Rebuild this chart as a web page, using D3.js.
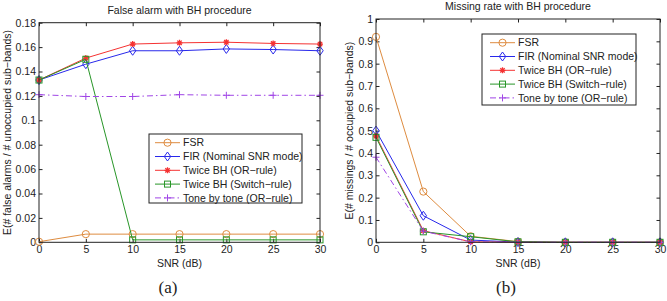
<!DOCTYPE html>
<html>
<head>
<meta charset="utf-8">
<script src="https://cdn.jsdelivr.net/npm/d3@7"></script>
<style>
  body { margin: 0; background: #fff; }
  svg { display: block; font-family: "Liberation Sans", Arial, sans-serif; }
</style>
</head>
<body>
<div id="chart"></div>
<script>
// SNR values shared by both panels
let snr = [0, 5, 10, 15, 20, 25, 30];
let seriesNames = ['FSR', 'FIR (Nominal SNR mode)', 'Twice BH (OR\u2212rule)', 'Twice BH (Switch\u2212rule)', 'Tone by tone (OR\u2212rule)'];

// panel (a): false alarm
let faFSR    = [0.0005, 0.0067, 0.0067, 0.0067, 0.0067, 0.0067, 0.0067];
let faFIR    = [0.133, 0.146, 0.157, 0.157, 0.1585, 0.158, 0.157];
let faOR     = [0.133, 0.151, 0.1625, 0.1635, 0.164, 0.163, 0.1625];
let faSwitch = [0.133, 0.150, 0.002, 0.002, 0.002, 0.002, 0.002];
let faTone   = [0.121, 0.1195, 0.1195, 0.121, 0.1205, 0.1205, 0.1205];

// panel (b): missing rate
let mrFSR    = [0.92, 0.227, 0.027, 0.003, 0, 0, 0];
let mrFIR    = [0.50, 0.119, 0.01, 0.001, 0, 0, 0];
let mrOR     = [0.476, 0.052, 0.002, 0, 0, 0, 0];
let mrSwitch = [0.47, 0.047, 0.025, 0.002, 0, 0, 0];
let mrTone   = [0.381, 0.05, 0.002, 0, 0, 0, 0];

let faTicks = [0, 0.02, 0.04, 0.06, 0.08, 0.1, 0.12, 0.14, 0.16, 0.18];
let mrTicks = [0, 0.1, 0.2, 0.3, 0.4, 0.5, 0.6, 0.7, 0.8, 0.9, 1];

let styles = [
    {color: 'rgb(222,140,64)', marker: 'circle', dash: null},
    {color: 'rgb(40,40,235)',  marker: 'diamond', dash: null},
    {color: 'rgb(245,50,50)',  marker: 'star', dash: null},
    {color: 'rgb(40,150,40)',  marker: 'square', dash: null},
    {color: 'rgb(160,70,230)', marker: 'plus', dash: '6,3,1.5,3'}
];

let svg = d3.select('#chart').append('svg')
    .attr('width', 667)
    .attr('height', 301);

let panels = [
    {
        x0: 39, x1: 320, y0: 242.3, y1: 22.7,
        ymax: 0.18, yTicks: faTicks,
        title: 'False alarm with BH procedure', titleY: 14,
        ylabel: 'E(# false alarms / # unoccupied sub\u2212bands)', ylabelX: 7.5,
        data: [faFSR, faFIR, faOR, faSwitch, faTone],
        legend: {x: 149, y: 134, w: 153, h: 69, lx: 6, tx: 34},
        caption: '(a)', capX: 168
    },
    {
        x0: 376, x1: 660, y0: 242.3, y1: 19,
        ymax: 1, yTicks: mrTicks,
        title: 'Missing rate with BH procedure', titleY: 10,
        ylabel: 'E(# missings / # occupied sub\u2212bands)', ylabelX: 349,
        data: [mrFSR, mrFIR, mrOR, mrSwitch, mrTone],
        legend: {x: 482, y: 34, w: 154, h: 71, lx: 8, tx: 36},
        caption: '(b)', capX: 506
    }
];

function drawMarker(g, type, color) {
    if (type === 'circle') {
        g.append('circle').attr('r', 3.6).attr('fill', 'none').attr('stroke', color).attr('stroke-width', 1);
    } else if (type === 'diamond') {
        g.append('path').attr('d', 'M0,-4.5L3.2,0L0,4.5L-3.2,0Z').attr('fill', 'none').attr('stroke', color).attr('stroke-width', 1);
    } else if (type === 'square') {
        g.append('rect').attr('x', -3).attr('y', -3).attr('width', 6).attr('height', 6)
            .attr('fill', 'none').attr('stroke', color).attr('stroke-width', 1);
    } else if (type === 'star') {
        g.append('path').attr('d', 'M-3,0L3,0M0,-3L0,3M-2.2,-2.2L2.2,2.2M-2.2,2.2L2.2,-2.2')
            .attr('stroke', color).attr('stroke-width', 1.3);
    } else if (type === 'plus') {
        g.append('path').attr('d', 'M-3.5,0L3.5,0M0,-3.5L0,3.5').attr('stroke', color).attr('stroke-width', 1);
    }
}

panels.forEach(p => {
    let x = d3.scaleLinear().domain([0, 30]).range([p.x0, p.x1]);
    let y = d3.scaleLinear().domain([0, p.ymax]).range([p.y0, p.y1]);
    let g = svg.append('g');

    // axes (Matlab style: ticks inward on all four sides)
    g.append('g')
        .attr('transform', `translate(0,${p.y0})`)
        .call(d3.axisBottom(x).tickValues(snr).tickSizeInner(-3.5).tickSizeOuter(0).tickPadding(3))
        .call(a => a.select('.domain').remove())
        .call(a => a.selectAll('text').attr('font-size', 10.5).attr('fill', '#222'));
    g.append('g')
        .attr('transform', `translate(0,${p.y1})`)
        .call(d3.axisTop(x).tickValues(snr).tickSizeInner(-3.5).tickSizeOuter(0).tickFormat(''))
        .call(a => a.select('.domain').remove());
    g.append('g')
        .attr('transform', `translate(${p.x0},0)`)
        .call(d3.axisLeft(y).tickValues(p.yTicks).tickSizeInner(-3.5).tickSizeOuter(0).tickPadding(3).tickFormat(d3.format('')))
        .call(a => a.select('.domain').remove())
        .call(a => a.selectAll('text').attr('font-size', 10.5).attr('fill', '#222'));
    g.append('g')
        .attr('transform', `translate(${p.x1},0)`)
        .call(d3.axisRight(y).tickValues(p.yTicks).tickSizeInner(-3.5).tickSizeOuter(0).tickFormat(''))
        .call(a => a.select('.domain').remove());
    g.selectAll('.tick line').attr('stroke', '#222');

    // series
    p.data.forEach((vals, i) => {
        let st = styles[i];
        let pts = snr.map((s, j) => [s, vals[j]]);
        g.append('path')
            .datum(pts)
            .attr('fill', 'none')
            .attr('stroke', st.color)
            .attr('stroke-width', 1)
            .attr('stroke-dasharray', st.dash)
            .attr('d', d3.line().x(d => x(d[0])).y(d => y(d[1])));
        pts.forEach(d => {
            let m = g.append('g').attr('transform', `translate(${x(d[0])},${y(d[1])})`);
            drawMarker(m, st.marker, st.color);
        });
    });

    // frame
    g.append('rect')
        .attr('x', p.x0).attr('y', p.y1)
        .attr('width', p.x1 - p.x0).attr('height', p.y0 - p.y1)
        .attr('fill', 'none').attr('stroke', '#222').attr('stroke-width', 1);

    // legend
    let L = p.legend;
    let lg = g.append('g').attr('transform', `translate(${L.x},${L.y})`);
    lg.append('rect').attr('width', L.w).attr('height', L.h)
        .attr('fill', '#fff').attr('stroke', '#222').attr('stroke-width', 1);
    seriesNames.forEach((name, i) => {
        let st = styles[i];
        let ly = 8.7 + i * 13.8;
        lg.append('line').attr('x1', L.lx).attr('x2', L.lx + 25).attr('y1', ly).attr('y2', ly)
            .attr('stroke', st.color).attr('stroke-width', 1).attr('stroke-dasharray', st.dash);
        drawMarker(lg.append('g').attr('transform', `translate(${L.lx + 12.5},${ly})`), st.marker, st.color);
        lg.append('text').attr('x', L.tx).attr('y', ly).attr('dy', '0.35em')
            .attr('font-size', 10.5).attr('fill', '#222').text(name);
    });

    // titles and labels
    svg.append('text').attr('x', (p.x0 + p.x1) / 2).attr('y', p.titleY)
        .attr('text-anchor', 'middle').attr('font-size', 10.5).attr('fill', '#222').text(p.title);
    svg.append('text').attr('x', (p.x0 + p.x1) / 2).attr('y', 267)
        .attr('text-anchor', 'middle').attr('font-size', 10.5).attr('fill', '#222').text('SNR (dB)');
    svg.append('text')
        .attr('transform', `translate(${p.ylabelX},${(p.y0 + p.y1) / 2}) rotate(-90)`)
        .attr('text-anchor', 'middle').attr('dy', '0.35em')
        .attr('font-size', 10.5).attr('fill', '#222').text(p.ylabel);
    svg.append('text').attr('x', p.capX).attr('y', 293)
        .attr('text-anchor', 'middle').attr('font-family', '"Liberation Serif", "DejaVu Serif", serif')
        .attr('font-size', 17).attr('fill', '#222').text(p.caption);
});
</script>
</body>
</html>
